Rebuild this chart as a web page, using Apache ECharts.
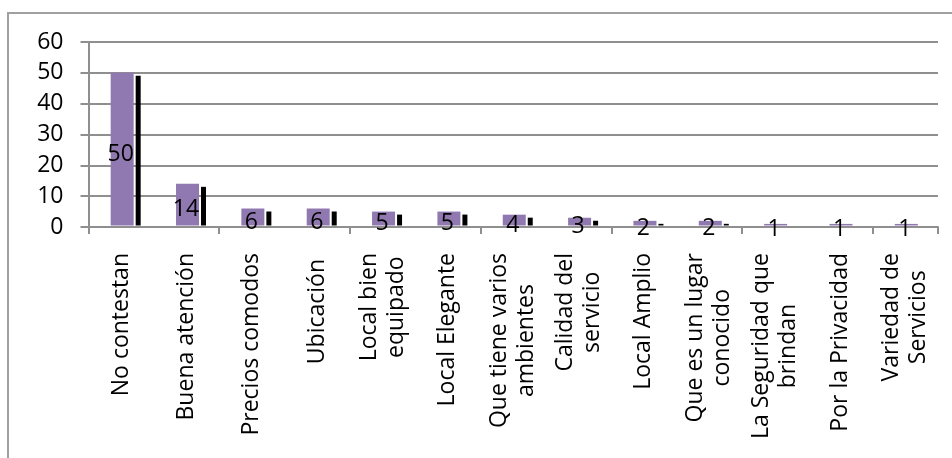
<!DOCTYPE html>
<html>
<head>
<meta charset="utf-8">
<script src="https://cdn.jsdelivr.net/npm/echarts@6/dist/echarts.min.js"></script>
<style>
  html, body { margin: 0; padding: 0; background: #ffffff; }
  #chart { width: 952px; height: 458px; }
</style>
</head>
<body>
<div id="chart"></div>
<script>
// Motivos de preferencia del local (número de respuestas)
const categories = [
  'No contestan',
  'Buena atención',
  'Precios comodos',
  'Ubicación ',
  'Local bien\nequipado',
  'Local Elegante',
  'Que tiene varios\nambientes',
  'Calidad del\nservicio',
  'Local Amplio',
  'Que es un lugar\nconocido',
  'La Seguridad que\nbrindan',
  'Por la Privacidad',
  'Variedad de\nServicios'
];
const values = [50, 14, 6, 6, 5, 5, 4, 3, 2, 2, 1, 1, 1];
const yTicks = [0, 10, 20, 30, 40, 50, 60];

const FONT_FAMILY = '"Open Sans", "Noto Sans", sans-serif';
const FONT_SIZE = 23;
const FONT = FONT_SIZE + 'px ' + FONT_FAMILY;
const LINE_H = 27;

// width of the longest line of a label, used to centre multi-line labels
const measureCtx = document.createElement('canvas').getContext('2d');
function blockWidth(text) {
  measureCtx.font = FONT;
  return Math.max.apply(null, text.split('\n').map(l => measureCtx.measureText(l).width));
}

const chart = echarts.init(document.getElementById('chart'), null, { renderer: 'canvas' });

chart.setOption({
  animation: false,
  backgroundColor: '#ffffff',
  grid: { left: 88.5, right: 14, top: 42, bottom: 231, containLabel: false },
  graphic: [{
    type: 'rect',
    shape: { x: 8, y: 13, width: 1000, height: 500 },
    style: { fill: 'none', stroke: '#a0a0a0', lineWidth: 2 },
    silent: true
  }],
  xAxis: {
    type: 'category',
    data: categories,
    boundaryGap: true,
    axisLine: { show: true, lineStyle: { color: '#8f8f8f', width: 2 } },
    axisTick: { show: true, length: 7, alignWithLabel: false, lineStyle: { color: '#8f8f8f', width: 2 } },
    axisLabel: { show: false },
    splitLine: { show: false }
  },
  yAxis: {
    type: 'value',
    min: yTicks[0],
    max: yTicks[yTicks.length - 1],
    interval: yTicks[1] - yTicks[0],
    axisLine: { show: true, lineStyle: { color: '#8f8f8f', width: 2 } },
    axisTick: { show: true, length: 8, lineStyle: { color: '#8f8f8f', width: 2 } },
    axisLabel: {
      margin: 25,
      color: '#000000',
      fontFamily: FONT_FAMILY,
      fontSize: FONT_SIZE
    },
    splitLine: { show: true, lineStyle: { color: '#8f8f8f', width: 2 } }
  },
  series: [
    {
      // columns: purple front face with a dark side edge, value printed inside
      type: 'custom',
      clip: false,
      data: values.map((v, i) => [i, v]),
      renderItem: function (params, api) {
        const i = api.value(0);
        const v = api.value(1);
        const top = api.coord([i, v]);
        const zero = api.coord([i, 0]);
        const floorY = zero[1] - 1.5;
        const cx = top[0];
        const children = [];
        const frontH = Math.max(floorY - top[1], 0);
        children.push({
          type: 'rect',
          shape: { x: cx - 10.5, y: top[1], width: 23, height: frontH },
          style: { fill: '#9079b0' }
        });
        const sideTop = top[1] + 3;
        if (floorY - sideTop > 0) {
          children.push({
            type: 'rect',
            shape: { x: cx + 14.5, y: sideTop, width: 5, height: floorY - sideTop },
            style: { fill: '#000000' }
          });
        }
        children.push({
          type: 'text',
          x: cx - 0.5,
          y: (top[1] + floorY) / 2 + 5,
          style: {
            text: String(v),
            font: FONT,
            fill: '#000000',
            align: 'center',
            verticalAlign: 'middle'
          }
        });
        return { type: 'group', children: children };
      },
      z: 3
    },
    {
      // rotated category labels, lines centred on each other, end of text toward the axis
      type: 'custom',
      clip: false,
      data: categories.map((c, i) => [i, 0]),
      renderItem: function (params, api) {
        const i = api.value(0);
        const zero = api.coord([i, 0]);
        const text = categories[i];
        const w = blockWidth(text);
        return {
          type: 'text',
          x: zero[0],
          y: zero[1] + 26 + w / 2,
          rotation: Math.PI / 2,
          style: {
            text: text,
            font: FONT,
            fill: '#000000',
            align: 'center',
            verticalAlign: 'middle',
            lineHeight: LINE_H
          }
        };
      },
      z: 3
    }
  ]
});
</script>
</body>
</html>
